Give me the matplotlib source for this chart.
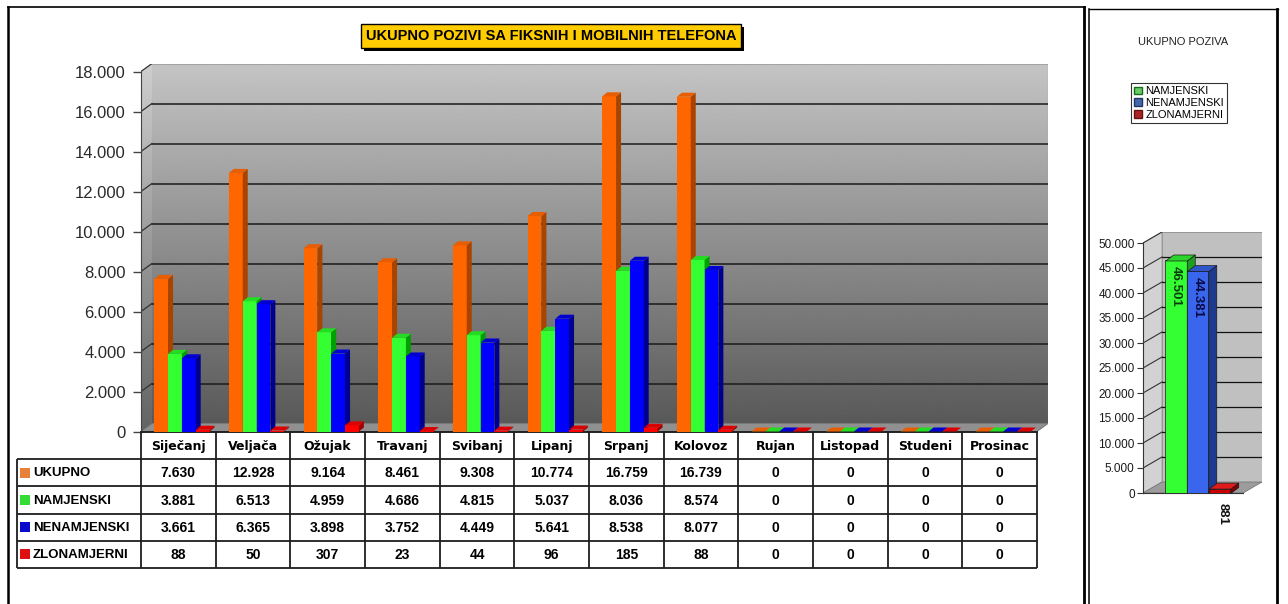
import numpy as np
import matplotlib
matplotlib.use("Agg")
import matplotlib.pyplot as plt
from matplotlib.collections import PolyCollection
from matplotlib.patches import Polygon, Patch
from matplotlib.ticker import FuncFormatter
import matplotlib.patheffects as pe

plt.rcParams['font.family'] = ['Liberation Sans', 'DejaVu Sans']

# ---- data ----
months = ["Siječanj", "Veljača", "Ožujak", "Travanj", "Svibanj", "Lipanj",
          "Srpanj", "Kolovoz", "Rujan", "Listopad", "Studeni", "Prosinac"]
series_names = ["UKUPNO", "NAMJENSKI", "NENAMJENSKI", "ZLONAMJERNI"]
ukupno = [7630, 12928, 9164, 8461, 9308, 10774, 16759, 16739, 0, 0, 0, 0]
namjenski = [3881, 6513, 4959, 4686, 4815, 5037, 8036, 8574, 0, 0, 0, 0]
nenamjenski = [3661, 6365, 3898, 3752, 4449, 5641, 8538, 8077, 0, 0, 0, 0]
zlonamjerni = [88, 50, 307, 23, 44, 96, 185, 88, 0, 0, 0, 0]

total_names = ["NAMJENSKI", "NENAMJENSKI", "ZLONAMJERNI"]
total_values = [46501, 44381, 881]

W, H = 1288, 604
fig = plt.figure(figsize=(W / 100, H / 100), dpi=100)


def px_axes(left, top, right, bottom, **kw):
    return fig.add_axes([left / W, 1 - bottom / H, (right - left) / W, (bottom - top) / H], **kw)


def fmt(v):
    return f"{int(v):,}".replace(",", ".")


def bars3d(ax, xs, vals, bw, ddx, ddy, fc, sc, tc, z, ec='none', lw=0):
    ax.bar(xs, vals, width=bw, color=fc, zorder=z, edgecolor=ec, linewidth=lw)
    sides, tops = [], []
    for xc, v in zip(xs, vals):
        xl, xr = xc - bw / 2, xc + bw / 2
        sides.append([(xr, 0), (xr + ddx, ddy), (xr + ddx, v + ddy), (xr, v)])
        tops.append([(xl, v), (xr, v), (xr + ddx, v + ddy), (xl + ddx, v + ddy)])
    ax.add_collection(PolyCollection(sides, facecolors=sc, edgecolors=ec, linewidths=lw, zorder=z + 0.5))
    ax.add_collection(PolyCollection(tops, facecolors=tc, edgecolors=ec, linewidths=lw, zorder=z + 0.5))


# ---- main 3D column chart ----
X0, X1 = 141, 1037
Y0, Y18 = 431.5, 71.5
DXP, DYP = 11, 8
ppc = (X1 - X0) / 12
ppv = (Y0 - Y18) / 18000
DX, DY = DXP / ppc, DYP / ppv

ax = px_axes(X0, Y18 - DYP, X1 + DXP, Y0)
ax.patch.set_visible(False)

grad = np.linspace(0.35, 0.77, 256).reshape(-1, 1)
ax.imshow(grad, cmap='gray', vmin=0, vmax=1, origin='lower', aspect='auto',
          extent=(-0.5 + DX, 11.5 + DX, DY, 18000 + DY), zorder=0, interpolation='bilinear')
side = Polygon([(-0.5, 0), (-0.5, 18000), (-0.5 + DX, 18000 + DY), (-0.5 + DX, DY)],
               closed=True, fc='none', ec='none')
ax.add_patch(side)
im2 = ax.imshow(np.clip(grad + 0.04, 0, 1), cmap='gray', vmin=0, vmax=1, origin='lower', aspect='auto',
                extent=(-0.5, -0.5 + DX, 0, 18000 + DY), zorder=0, interpolation='bilinear')
im2.set_clip_path(side)
ax.add_patch(Polygon([(-0.5, 0), (11.5, 0), (11.5 + DX, DY), (-0.5 + DX, DY)],
                     closed=True, fc='#909090', ec='#6a6a6a', lw=0.6, zorder=1))

for v in range(2000, 18001, 2000):
    c = '#1a1a1a' if v < 18000 else '#9a9a9a'
    ax.plot([-0.5 + DX, 11.5 + DX], [v + DY, v + DY], color=c, lw=1.1, zorder=1)
    ax.plot([-0.5, -0.5 + DX], [v, v + DY], color='#333333', lw=0.9, zorder=1)
ax.plot([11.5 + DX, 11.5 + DX], [DY, 18000 + DY], color='#8a8a8a', lw=0.8, zorder=1)

series = [ukupno, namjenski, nenamjenski, zlonamjerni]
front_c = ['#ff6600', '#33ff33', '#0000ff', '#ff0000']
side_c = ['#a84300', '#00a000', '#000090', '#a00000']
top_c = ['#e85d00', '#22dd22', '#0000d0', '#dd0000']
offsets = [-0.23, -0.045, 0.14, 0.325]
bw = 0.185
x = np.arange(len(months))
for s, vals in enumerate(series):
    bars3d(ax, x + offsets[s], vals, bw, 5 / ppc, 4 / ppv,
           front_c[s], side_c[s], top_c[s], 3 + s)

ax.set_xlim(-0.5, 11.5 + DX)
ax.set_ylim(0, 18000 + DY)
for sp in ['top', 'right']:
    ax.spines[sp].set_visible(False)
ax.spines['left'].set_bounds(0, 18000)
ax.spines['left'].set_color('#444444')
ax.spines['bottom'].set_bounds(-0.5, 11.5)
ax.spines['bottom'].set_color('#222222')
ax.spines['bottom'].set_linewidth(1.4)
ax.set_xticks([])
ax.set_yticks(range(0, 18001, 2000))
ax.yaxis.set_major_formatter(FuncFormatter(lambda v, p: fmt(v)))
ax.tick_params(axis='y', length=6, width=1, color='#444444', labelsize=12,
               labelcolor='#2a2a2a', pad=5)

# ---- data table ----
tax = px_axes(17, 432, 1037, 568)
LX = -0.5 - (141 - 17) / ppc
tax.set_xlim(LX, 11.5)
tax.set_ylim(5, 0)
tax.axis('off')
lc = '#1e1e1e'
tax.vlines(np.arange(13) - 0.5, 0, 5, color=lc, lw=1.3, clip_on=False)
tax.vlines([LX], 1, 5, color=lc, lw=1.3, clip_on=False)
tax.hlines(range(1, 6), LX, 11.5, color=lc, lw=1.3, clip_on=False)

key_c = ['#e8803a', '#33dd33', '#0a0acc', '#dd1111']
for i, m in enumerate(months):
    tax.text(i, 0.52, m, ha='center', va='center', fontfamily='DejaVu Sans',
             fontweight='bold', fontsize=9)
for r, (name, vals) in enumerate(zip(series_names, series), start=1):
    tax.scatter([LX + 8 / ppc], [r + 0.5], marker='s', s=42, color=key_c[r - 1], linewidths=0)
    tax.text(LX + 16 / ppc, r + 0.52, name, ha='left', va='center', fontweight='bold', fontsize=9.5)
    for i, v in enumerate(vals):
        tax.text(i, r + 0.52, fmt(v), ha='center', va='center', fontweight='bold', fontsize=10)

# ---- title ----
t = fig.text(551 / W, 1 - 36 / H, "UKUPNO POZIVI SA FIKSNIH I MOBILNIH TELEFONA",
             ha='center', va='center', fontsize=10.5, fontweight='bold',
             bbox=dict(boxstyle='square,pad=0.35', fc='#ffcc00', ec='black', lw=1))
t.get_bbox_patch().set_path_effects([
    pe.SimplePatchShadow(offset=(2.2, -2.2), shadow_rgbFace='black', alpha=1), pe.Normal()])

# ---- side panel: yearly totals ----
SX0, SX1 = 1143, 1243
SY0, SY50 = 493, 243
SDXP, SDYP = 19, 11
sppc = SX1 - SX0
sppv = (SY0 - SY50) / 50000
SDX, SDY = SDXP / sppc, SDYP / sppv

sax = px_axes(SX0, SY50 - SDYP, SX1 + SDXP, SY0)
sax.patch.set_visible(False)
sax.add_patch(Polygon([(-0.5 + SDX, SDY), (0.5 + SDX, SDY), (0.5 + SDX, 50000 + SDY), (-0.5 + SDX, 50000 + SDY)],
                      closed=True, fc='#c0c0c0', ec='#8a8a8a', lw=0.6, zorder=0))
sax.add_patch(Polygon([(-0.5, 0), (-0.5, 50000), (-0.5 + SDX, 50000 + SDY), (-0.5 + SDX, SDY)],
                      closed=True, fc='#d2d2d2', ec='#9a9a9a', lw=0.6, zorder=0))
sax.add_patch(Polygon([(-0.5, 0), (0.5, 0), (0.5 + SDX, SDY), (-0.5 + SDX, SDY)],
                      closed=True, fc='#9c9c9c', ec='#777777', lw=0.6, zorder=1))
for v in range(5000, 50000, 5000):
    sax.plot([-0.5 + SDX, 0.5 + SDX], [v + SDY, v + SDY], color='#111111', lw=0.9, zorder=1)
for v in range(5000, 50001, 5000):
    sax.plot([-0.5, -0.5 + SDX], [v, v + SDY], color='#333333', lw=0.8, zorder=1)

s_front = ['#33ff33', '#3a66ee', '#cc0000']
s_side = ['#1f9e1f', '#1d3a8f', '#800000']
s_top = ['#2ad42a', '#2f55c8', '#e01b1b']
s_x = [-0.17, 0.045, 0.265]
s_bw = 0.215
for k in range(3):
    bars3d(sax, [s_x[k]], [total_values[k]], s_bw, 8 / sppc, 6 / sppv,
           s_front[k], s_side[k], s_top[k], 3 + k, ec='#1a1a1a', lw=0.5)

lab_c = ['#0a3d0a', '#0a0a40']
for k in range(2):
    sax.annotate(fmt(total_values[k]), xy=(s_x[k], total_values[k]), xytext=(0, -6),
                 textcoords='offset pixels', rotation=-90, ha='center', va='top',
                 fontweight='bold', fontsize=9.5, color=lab_c[k], zorder=10)
sax.annotate(fmt(total_values[2]), xy=(s_x[2], 0), xytext=(3, -10),
             textcoords='offset pixels', rotation=-90, ha='center', va='top',
             fontweight='bold', fontsize=9.5, color='#111111', annotation_clip=False)

sax.set_xlim(-0.5, 0.5 + SDX)
sax.set_ylim(0, 50000 + SDY)
for sp in ['top', 'right']:
    sax.spines[sp].set_visible(False)
sax.spines['left'].set_bounds(0, 50000)
sax.spines['bottom'].set_bounds(-0.5, 0.5)
sax.spines['left'].set_color('#333333')
sax.spines['bottom'].set_color('#333333')
sax.set_xticks([])
sax.set_yticks(range(0, 50001, 5000))
sax.yaxis.set_major_formatter(FuncFormatter(lambda v, p: fmt(v)))
sax.tick_params(axis='y', length=4, width=0.8, color='#333333', labelsize=8.5,
                labelcolor='#1a1a1a', pad=2)

fig.text(1183 / W, 1 - 42 / H, "UKUPNO POZIVA", ha='center', va='center',
         fontsize=8, color='#222222')
handles = [Patch(fc='#66cc66', ec='#1a6b1a'), Patch(fc='#4466aa', ec='#223366'),
           Patch(fc='#aa2222', ec='#661111')]
leg = fig.legend(handles, total_names, loc='upper left', bbox_to_anchor=(1131 / W, 1 - 83 / H),
                 frameon=True, fancybox=False, edgecolor='black', fontsize=8,
                 handlelength=0.7, handleheight=0.7, handletextpad=0.3, borderpad=0.3,
                 labelspacing=0.15, borderaxespad=0)
leg.get_frame().set_linewidth(0.8)

# ---- frames ----
oax = fig.add_axes([0, 0, 1, 1], zorder=20)
oax.set_xlim(0, W)
oax.set_ylim(H, 0)
oax.axis('off')
oax.plot([8, 8], [7, H], color='black', lw=1.8)
oax.plot([8, 1085], [7, 7], color='black', lw=1.2)
oax.plot([1084.5, 1084.5], [7, H], color='black', lw=2.0)
oax.plot([1089.5, 1089.5], [9, H], color='black', lw=1.1)
oax.plot([1089, 1278], [9, 9], color='black', lw=1.0)
oax.plot([1277.5, 1277.5], [9, H], color='black', lw=2.0)

fig.savefig('out.png', dpi=100)
